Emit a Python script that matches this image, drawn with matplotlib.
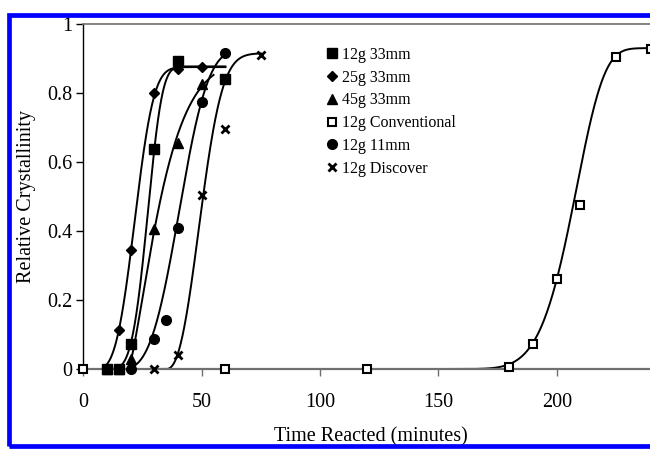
import numpy as np
import matplotlib
matplotlib.use("Agg")
import matplotlib.pyplot as plt
from matplotlib.lines import Line2D
from matplotlib.patches import Rectangle

plt.rcParams['font.family'] = ['Liberation Serif', 'DejaVu Serif']

# Данные (время в минутах, относительная кристалличность)
labels = ['12g 33mm', '25g 33mm', '45g 33mm', '12g Conventional', '12g 11mm', '12g Discover']

t_12g_33 = [10, 15, 20, 30, 40, 60]
y_12g_33 = [0, 0, 0.073, 0.638, 0.893, 0.84]

t_25g_33 = [10, 15, 20, 30, 40, 50]
y_25g_33 = [0, 0.113, 0.345, 0.80, 0.87, 0.875]

t_45g_33 = [10, 15, 20, 30, 40, 50]
y_45g_33 = [0, 0, 0.03, 0.405, 0.655, 0.825]

t_conv = [0, 60, 120, 180, 190, 200, 210, 225, 240]
y_conv = [0, 0, 0, 0.005, 0.072, 0.26, 0.475, 0.905, 0.927]

t_12g_11 = [20, 30, 35, 40, 50, 60]
y_12g_11 = [0, 0.088, 0.142, 0.41, 0.775, 0.915]

t_disc = [30, 40, 50, 60, 75]
y_disc = [0, 0.04, 0.503, 0.695, 0.91]

# Параметры кривых Аврами: A, t0, tau, n, начало, конец
fit_12g_33 = [0.877, 10, 18.7, 3.9, 10, 60]
fit_25g_33 = [0.875, 5, 18.95, 3.1, 10, 60]
fit_45g_33 = [0.90, 19, 16.2, 1.35, 15, 55]
fit_conv = [0.93, 150, 60.2, 6.0, 150, 240]
fit_12g_11 = [0.93, 15, 28.9, 3.1, 20, 60]
fit_disc = [0.915, 35, 17.2, 2.4, 30, 75]


def avrami(params):
    A, t0, tau, n, t_start, t_end = params
    t = np.linspace(t_start, t_end, 300)
    dt = np.clip(t - t0, 0, None)
    return t, A * (1 - np.exp(-(dt / tau) ** n))


fig = plt.figure(figsize=(6.5, 4.49), dpi=100)
ax = fig.add_axes([0.1282, 0.1782, 0.885, 0.7684])

series = [
    (t_12g_33, y_12g_33, fit_12g_33, dict(marker='s', ms=6.5, mfc='black', mec='black')),
    (t_25g_33, y_25g_33, fit_25g_33, dict(marker='D', ms=5.5, mfc='black', mec='black')),
    (t_45g_33, y_45g_33, fit_45g_33, dict(marker='^', ms=7, mfc='black', mec='black')),
    (t_conv, y_conv, fit_conv, dict(marker='s', ms=6, mfc='white', mec='black', mew=1.5)),
    (t_12g_11, y_12g_11, fit_12g_11, dict(marker='o', ms=7, mfc='black', mec='black')),
    (t_disc, y_disc, fit_disc, dict(marker='x', ms=6, mec='black', mew=2)),
]

handles = []
for (t, y, fit, style), lab in zip(series, labels):
    tc, yc = avrami(fit)
    ax.plot(tc, yc, color='black', lw=1.4, zorder=2)
    ax.plot(t, y, ls='none', zorder=3, clip_on=False, **style)
    handles.append(Line2D([], [], ls='none', label=lab, **style))

ax.set_xlim(0, 243)
ax.set_ylim(0, 1)
ax.set_xticks([0, 50, 100, 150, 200])
ax.set_yticks([0, 0.2, 0.4, 0.6, 0.8, 1])
ax.set_yticklabels(['0', '0.2', '0.4', '0.6', '0.8', '1'])

ax.spines['right'].set_visible(False)
ax.spines['left'].set_color('black')
ax.spines['left'].set_linewidth(1.0)
ax.spines['bottom'].set_color('#707070')
ax.spines['bottom'].set_linewidth(1.6)
ax.spines['top'].set_color('#707070')
ax.spines['top'].set_linewidth(1.2)

ax.tick_params(axis='x', direction='out', length=5, width=1, color='#707070',
               labelsize=14.5, pad=12)
ax.tick_params(axis='y', direction='out', length=5, width=1, color='black',
               labelsize=14.5, pad=3)

ax.set_xlabel('Time Reacted (minutes)', fontsize=14.5, labelpad=11)
ax.set_ylabel('Relative Crystallinity', fontsize=14.5, labelpad=8)

leg = fig.legend(handles=handles, loc='upper left', bbox_to_anchor=(0.49, 0.913),
                 frameon=False, fontsize=11.5, handlelength=0.7, handletextpad=0.25,
                 labelspacing=0.42, borderpad=0)

# Синяя рамка
fig.patches.append(Rectangle((0.0146, 0.0056), 1.2, 0.96, transform=fig.transFigure,
                             fill=False, edgecolor='#0000FF', lw=3.4, zorder=10))

plt.savefig('out.png', dpi=100)
plt.close()
